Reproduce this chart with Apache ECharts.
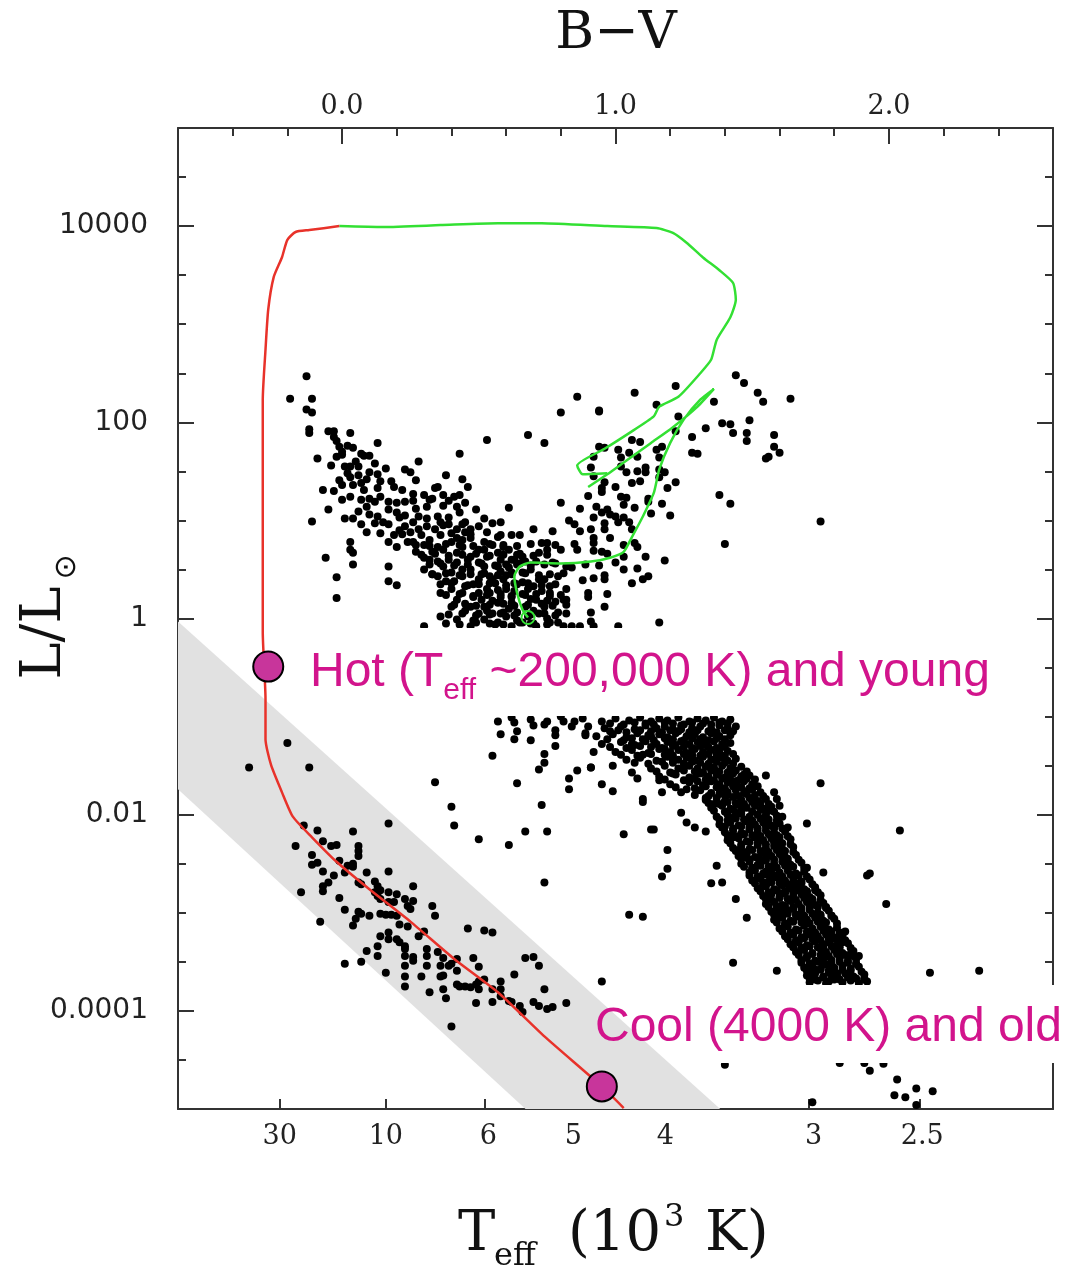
<!DOCTYPE html>
<html><head><meta charset="utf-8">
<script src="https://cdn.jsdelivr.net/npm/echarts@6/dist/echarts.min.js"></script>
<style>html,body{margin:0;padding:0;background:#fff}#chart{width:1080px;height:1270px}</style>
</head><body><div id="chart"></div>
<script>
// ---------- axis ticks & labels (x in B-V, y in log10 L/Lsun) ----------
const bvLabelValues = [0, 1, 2];
const bvLabelText = ['0.0', '1.0', '2.0'];
const bvMajorTicks = [0, 1, 2];
const bvMinorTicks = [-0.4, -0.2, 0.2, 0.4, 0.6, 0.8, 1.2, 1.4, 1.6, 1.8, 2.2, 2.4];
const teffLabelText = ['30', '10', '6', '5', '4', '3', '2.5'];
const teffLabelPos = [-0.228, 0.160, 0.535, 0.846, 1.182, 1.724, 2.122];
const teffTickPos = [-0.228, 0.158, 0.520, 0.832, 1.168, 1.708, 2.114];
const logLMajor = [-4, -2, 0, 2, 4];
const logLLabelText = ['0.0001', '0.01', '1', '100', '10000'];
const logLMinor = [-4.5, -3.5, -3, -2.5, -1.5, -1, -0.5, 0.5, 1, 1.5, 2.5, 3, 3.5, 4.5];

// ---------- stars [B-V, log L] ----------
const upperMainSequence = [
[-0.13,2.47],[-0.19,2.24],[-0.11,2.24],[-0.13,2.13],[-0.11,2.10],[-0.12,1.93],[-0.12,1.89],[-0.05,1.91],[-0.03,1.91],[0.03,1.89],
[-0.03,1.85],[0.13,1.79],[-0.01,1.75],[0.02,1.76],[0.04,1.74],[-0.02,1.65],[-0.09,1.63],[0.05,1.60],[-0.04,1.56],[0.01,1.55],
[0.03,1.55],[0.06,1.55],[0.12,1.58],[0.16,1.53],[0.23,1.52],[0.25,1.49],[0.28,1.60],[0.43,1.68],[0.53,1.82],[0.68,1.87],
[0.74,1.79],[0.80,2.10],[0.03,1.44],[0.06,1.46],[0.10,1.49],[0.13,1.47],[-0.07,1.31],[-0.03,1.30],[0.00,1.36],[0.04,1.36],
[0.08,1.31],[0.13,1.33],[0.19,1.34],[0.22,1.31],[0.38,1.46],[0.44,1.42],[0.46,1.34],[0.30,1.26],[0.34,1.33],[0.35,1.34],
[0.37,1.26],[0.41,1.24],[0.43,1.26],[0.03,1.24],[0.07,1.21],[0.09,1.14],[0.12,1.19],[0.14,1.24],[0.17,1.19],[0.20,1.18],
[0.23,1.19],[-0.05,1.11],[0.06,1.09],[0.10,1.06],[0.13,1.04],[0.17,1.11],[0.21,1.03],[0.23,1.05],[0.28,1.04],[0.31,1.02],
[0.35,1.04],[0.39,1.03],[0.42,1.14],[0.43,1.08],[0.49,1.11],[0.52,1.02],[0.58,0.98],[0.61,1.13],[-0.11,0.99],[0.01,1.02],
[0.04,1.02],[0.09,0.88],[0.14,0.87],[0.17,0.96],[0.19,0.85],[0.23,0.94],[0.26,0.98],[0.28,0.91],[0.31,0.94],[0.34,0.91],
[0.36,0.98],[0.39,0.96],[0.42,0.91],[0.45,0.98],[0.47,0.91],[0.50,0.94],[0.53,0.88],[0.57,0.83],[0.65,0.85],[0.70,0.91],
[0.73,0.77],[0.75,0.77],[0.77,0.89],[0.80,1.18],[0.83,1.00],[0.03,0.78],[0.03,0.70],[0.04,0.67],[0.04,0.55],[-0.06,0.62],
[0.17,0.78],[0.20,0.73],[0.24,0.78],[0.17,0.53],[0.17,0.38],[0.20,0.34],[-0.02,0.42],[-0.02,0.21],[0.26,0.78],[0.30,0.75],
[0.32,0.80],[0.35,0.73],[0.37,0.70],[0.40,0.78],[0.42,0.67],[0.44,0.73],[0.47,0.63],[0.50,0.70],[0.53,0.63],[0.57,0.67],
[0.59,0.73],[0.62,0.60],[0.64,0.65],[0.66,0.63],[0.71,0.58],[0.75,0.70],[0.77,0.57],[0.80,0.70],[0.82,0.53],[0.30,0.50],
[0.32,0.60],[0.35,0.43],[0.37,0.53],[0.40,0.47],[0.42,0.57],[0.44,0.43],[0.47,0.50],[0.50,0.40],[0.52,0.53],[0.54,0.43],
[0.57,0.53],[0.59,0.40],[0.62,0.47],[0.66,0.47],[0.70,0.33],[0.74,0.40],[0.79,0.43],[0.82,0.30],[0.36,0.26],[0.40,0.30],
[0.42,0.19],[0.44,0.26],[0.47,0.12],[0.50,0.26],[0.52,0.12],[0.54,0.26],[0.57,0.16],[0.59,0.06],[0.62,0.16],[0.64,0.06],
[0.71,0.19],[0.74,0.12],[0.76,0.26],[0.79,0.06],[0.81,0.19],[0.36,0.02],[0.30,-0.08],[0.42,-0.01],[0.47,-0.08],[0.52,-0.01],
[0.57,-0.04],[0.62,-0.08],[0.66,-0.04],[0.71,-0.08],[0.76,-0.04],[0.81,-0.08],
[0.48,0.35],[0.53,0.30],[0.56,0.36],[0.60,0.30],[0.63,0.36],[0.66,0.25],[0.69,0.20],[0.67,0.12],[0.62,0.22],[0.58,0.22],
[0.55,0.18],[0.51,0.19],[0.48,0.22],[0.45,0.33],[0.55,0.05],[0.60,0.02],[0.68,0.02],[0.72,0.05],[0.64,-0.02],[0.56,-0.06],
[0.50,0.05],[0.45,0.08],[0.40,0.12],[0.38,0.38],[0.33,0.45],[0.30,0.62],[0.27,0.68],[0.33,0.68],[0.47,0.82],[0.52,0.78],
[0.55,0.75],[0.58,0.60],[0.61,0.52],[0.64,0.55],[0.69,0.50],[0.72,0.40],[0.76,0.33],[0.78,0.17],[0.75,0.00],[0.69,-0.05],
[0.73,0.28],[0.60,0.44],[0.63,0.60],[0.58,0.85],[0.45,0.88],[0.42,0.82],[0.25,0.88],[0.21,0.90],[0.15,0.98],[0.20,1.08],
[0.27,1.12],[0.31,1.14],[0.37,1.15],[0.45,1.18],[0.33,1.22],[0.26,1.27],[0.14,1.40],[0.07,1.38],[0.02,1.48],[0.08,1.66],
[-0.02,1.81],[0.00,1.70],
[0.00,1.67],[0.07,1.68],[0.10,1.66],[-0.01,1.41],[0.09,1.42],[0.18,1.40],[0.27,1.41],[0.00,1.21],[0.10,1.22],[0.26,1.20],
[0.32,1.21],[0.39,1.20],[0.07,0.96],[0.12,0.97],[0.37,0.95],[0.44,0.96],[0.55,0.97],[0.22,0.86],[0.29,0.85],[0.40,0.87],
[0.47,0.86],[0.62,0.85]
];

const upperMainSequenceCore = [
[0.27,0.75],[0.32,0.74],[0.38,0.76],[0.43,0.75],[0.48,0.74],[0.54,0.76],[0.59,0.75],[0.64,0.74],[0.69,0.76],[0.78,0.75],
[0.29,0.65],[0.34,0.66],[0.39,0.64],[0.44,0.65],[0.49,0.66],[0.54,0.64],[0.59,0.65],[0.65,0.66],[0.70,0.64],[0.75,0.65],
[0.32,0.55],[0.36,0.56],[0.41,0.54],[0.46,0.55],[0.51,0.56],[0.56,0.54],[0.60,0.55],[0.65,0.56],[0.69,0.54],[0.74,0.55],[0.78,0.56],
[0.33,0.45],[0.38,0.46],[0.43,0.44],[0.47,0.45],[0.52,0.46],[0.57,0.44],[0.62,0.45],[0.67,0.46],[0.72,0.44],[0.76,0.45],[0.81,0.46],
[0.36,0.35],[0.40,0.36],[0.46,0.34],[0.50,0.35],[0.54,0.36],[0.60,0.34],[0.64,0.35],[0.68,0.36],[0.73,0.34],[0.78,0.35],
[0.38,0.24],[0.43,0.25],[0.48,0.23],[0.53,0.24],[0.58,0.25],[0.62,0.23],[0.67,0.24],[0.71,0.25],[0.76,0.23],[0.80,0.24],
[0.41,0.14],[0.45,0.15],[0.49,0.13],[0.54,0.14],[0.59,0.15],[0.63,0.13],[0.68,0.14],[0.73,0.15],[0.77,0.13],[0.82,0.14],
[0.39,0.04],[0.44,0.05],[0.49,0.03],[0.54,0.04],[0.58,0.05],[0.63,0.03],[0.69,0.04],[0.74,0.05],[0.78,0.03],
[0.38,-0.05],[0.43,-0.06],[0.49,-0.04],[0.54,-0.05],[0.59,-0.06],[0.65,-0.04],[0.70,-0.05],[0.75,-0.06],[0.79,-0.04],
[0.46,0.60],[0.51,0.45],[0.57,0.29],[0.61,0.10],[0.66,0.37],[0.70,0.08],[0.53,0.08],[0.48,-0.02],[0.44,0.50],[0.39,0.60],
[0.58,0.48],[0.67,0.58],[0.72,0.67],[0.61,0.70],[0.50,0.57],[0.55,0.40],[0.63,0.28],[0.75,0.18],[0.68,0.30],[0.41,0.38],
[0.35,0.58],[0.52,0.70],[0.44,0.80],[0.36,0.85]
];

const giantBranch = [
[0.86,2.26],[1.07,2.30],[1.22,2.37],[1.44,2.48],[1.47,2.40],[1.52,2.30],[1.54,2.21],[1.64,2.24],[0.94,2.11],[1.15,2.18],
[1.36,2.21],[1.23,2.06],[1.33,1.94],[1.39,1.99],[1.42,1.98],[1.49,2.02],[1.43,1.89],[1.48,1.89],[1.48,1.81],[1.58,1.87],
[1.22,1.91],[1.28,1.85],[1.28,1.69],[1.30,1.68],[1.58,1.75],[1.60,1.69],[1.56,1.65],[1.55,1.63],[1.06,1.82],[1.09,1.80],
[0.94,1.75],[0.96,1.74],[1.01,1.72],[1.02,1.64],[1.05,1.69],[1.08,1.65],[1.15,1.72],[1.17,1.75],[1.16,1.64],[0.92,1.65],
[0.91,1.54],[1.02,1.55],[1.04,1.49],[1.08,1.50],[1.11,1.54],[1.11,1.49],[1.16,1.52],[1.18,1.49],[0.92,1.45],[0.96,1.39],
[0.95,1.33],[1.00,1.34],[1.06,1.38],[1.09,1.40],[1.16,1.44],[1.22,1.39],[1.19,1.33],[0.90,1.25],[0.95,1.29],[1.02,1.24],
[1.04,1.23],[1.12,1.22],[1.38,1.26],[1.42,1.17],[0.87,1.12],[0.93,1.14],[1.03,1.16],[1.07,1.13],[1.12,1.19],[1.17,1.17],
[1.13,1.07],[1.20,1.05],[0.85,0.96],[0.92,1.03],[0.95,1.08],[0.97,1.11],[1.00,1.04],[1.01,0.98],[1.03,1.03],[0.96,0.97],
[0.98,1.06],[1.05,0.98],[1.06,0.91],[0.87,0.89],[0.91,0.91],[0.96,0.91],[0.98,0.82],[0.92,0.82],[1.75,0.99],[0.85,0.76],
[0.86,0.70],[0.92,0.77],[0.92,0.69],[0.95,0.68],[0.97,0.66],[1.03,0.75],[1.07,0.77],[1.08,0.73],[1.03,0.63],[1.11,0.63],
[1.18,0.59],[1.40,0.76],[0.84,0.52],[0.89,0.55],[0.94,0.54],[1.00,0.57],[1.03,0.50],[1.08,0.51],[1.12,0.43],[1.10,0.40],
[0.96,0.44],[0.96,0.40],[0.92,0.41],[0.88,0.39],[1.06,0.36],[0.90,0.26],[0.90,0.22],[0.97,0.25],[0.82,0.19],[0.96,0.12],
[0.82,0.05],[0.91,0.06],[0.91,-0.03],[0.84,-0.08],[0.87,-0.08],[0.92,-0.08],[1.01,-0.08],[1.16,-0.04],[0.94,2.12]
];

const lowerMainSequence = [
[0.57,-1.05],[0.62,-1.01],[0.69,-1.03],[0.74,-1.08],[0.80,-1.00],[0.85,-1.05],[0.88,-1.02],[0.90,-1.10],
[0.95,-1.05],[1.00,-1.02],[1.05,-1.04],[1.09,-1.01],[1.13,-1.05],[1.16,-1.02],[1.19,-1.04],[1.23,-1.01],[1.27,-1.05],[1.30,-1.02],[1.33,-1.04],[1.36,-1.01],[1.39,-1.05],[1.42,-1.03],
[0.96,-1.12],[1.02,-1.10],[1.07,-1.13],[1.11,-1.09],[1.15,-1.12],[1.18,-1.10],[1.21,-1.13],[1.24,-1.09],[1.28,-1.12],[1.31,-1.10],[1.35,-1.13],[1.38,-1.09],[1.41,-1.12],[1.44,-1.10],
[0.93,-1.20],[0.99,-1.18],[1.04,-1.21],[1.08,-1.17],[1.13,-1.20],[1.16,-1.18],[1.19,-1.21],[1.22,-1.17],[1.26,-1.20],[1.29,-1.18],[1.32,-1.21],[1.35,-1.17],[1.38,-1.20],[1.42,-1.19],
[0.95,-1.28],[1.02,-1.26],[1.07,-1.29],[1.11,-1.25],[1.15,-1.28],[1.19,-1.26],[1.22,-1.29],[1.24,-1.25],[1.27,-1.28],[1.30,-1.26],[1.33,-1.29],[1.36,-1.25],[1.39,-1.28],[1.42,-1.27],
[1.00,-1.36],[1.06,-1.34],[1.12,-1.37],[1.16,-1.33],[1.20,-1.36],[1.23,-1.34],[1.26,-1.37],[1.29,-1.33],[1.32,-1.36],[1.35,-1.34],[1.38,-1.37],[1.41,-1.35],
[1.04,-1.44],[1.09,-1.42],[1.15,-1.45],[1.19,-1.41],[1.23,-1.44],[1.26,-1.42],[1.29,-1.45],[1.32,-1.41],[1.35,-1.44],[1.38,-1.42],[1.41,-1.45],[1.44,-1.43],
[1.13,-1.53],[1.18,-1.50],[1.23,-1.53],[1.27,-1.50],[1.30,-1.53],[1.33,-1.51],[1.36,-1.54],[1.39,-1.50],[1.42,-1.53],[1.46,-1.51],
[1.16,-1.61],[1.22,-1.59],[1.27,-1.62],[1.31,-1.58],[1.34,-1.61],[1.37,-1.59],[1.40,-1.62],[1.43,-1.58],[1.46,-1.61],[1.49,-1.60],
[1.20,-1.69],[1.27,-1.67],[1.32,-1.70],[1.35,-1.66],[1.38,-1.69],[1.41,-1.67],[1.44,-1.70],[1.47,-1.66],[1.50,-1.69],
[1.24,-1.77],[1.31,-1.75],[1.35,-1.78],[1.38,-1.74],[1.41,-1.77],[1.44,-1.75],[1.47,-1.78],[1.50,-1.74],[1.53,-1.77],
[1.33,-1.85],[1.37,-1.83],[1.40,-1.86],[1.43,-1.82],[1.46,-1.85],[1.49,-1.83],[1.52,-1.86],[1.55,-1.84],
[1.35,-1.93],[1.39,-1.91],[1.42,-1.94],[1.45,-1.90],[1.48,-1.93],[1.51,-1.91],[1.54,-1.94],[1.57,-1.92],
[1.37,-2.02],[1.41,-2.00],[1.43,-2.03],[1.46,-1.99],[1.49,-2.02],[1.52,-2.00],[1.55,-2.03],[1.59,-2.01],
[1.38,-2.10],[1.42,-2.08],[1.45,-2.11],[1.48,-2.07],[1.51,-2.10],[1.54,-2.08],[1.57,-2.11],[1.60,-2.09],
[1.40,-2.18],[1.43,-2.16],[1.46,-2.19],[1.49,-2.15],[1.52,-2.18],[1.55,-2.16],[1.58,-2.19],[1.62,-2.17],
[1.41,-2.26],[1.45,-2.24],[1.48,-2.27],[1.51,-2.23],[1.54,-2.26],[1.57,-2.24],[1.60,-2.27],[1.64,-2.25],
[1.43,-2.34],[1.46,-2.32],[1.49,-2.35],[1.52,-2.31],[1.55,-2.34],[1.58,-2.32],[1.61,-2.35],[1.65,-2.33],
[1.45,-2.42],[1.48,-2.40],[1.51,-2.43],[1.54,-2.39],[1.57,-2.42],[1.60,-2.40],[1.62,-2.43],[1.66,-2.41],
[1.46,-2.50],[1.49,-2.48],[1.52,-2.51],[1.55,-2.47],[1.58,-2.50],[1.61,-2.48],[1.64,-2.51],[1.68,-2.49],
[1.49,-2.59],[1.51,-2.57],[1.54,-2.60],[1.57,-2.56],[1.60,-2.59],[1.63,-2.57],[1.66,-2.60],[1.69,-2.58],
[1.50,-2.67],[1.53,-2.65],[1.56,-2.68],[1.59,-2.64],[1.62,-2.67],[1.65,-2.65],[1.68,-2.68],[1.71,-2.66],
[1.52,-2.75],[1.55,-2.73],[1.58,-2.76],[1.61,-2.72],[1.64,-2.75],[1.66,-2.73],[1.69,-2.76],[1.73,-2.74],
[1.54,-2.83],[1.57,-2.81],[1.60,-2.84],[1.62,-2.80],[1.65,-2.83],[1.68,-2.81],[1.71,-2.84],[1.75,-2.82],
[1.55,-2.91],[1.58,-2.89],[1.61,-2.92],[1.64,-2.88],[1.67,-2.91],[1.70,-2.89],[1.73,-2.92],[1.76,-2.90],
[1.57,-2.99],[1.60,-2.97],[1.62,-3.00],[1.65,-2.96],[1.68,-2.99],[1.71,-2.97],[1.74,-3.00],[1.78,-2.98],
[1.58,-3.07],[1.61,-3.05],[1.64,-3.08],[1.67,-3.04],[1.70,-3.07],[1.73,-3.05],[1.76,-3.08],[1.80,-3.06],
[1.60,-3.16],[1.63,-3.14],[1.66,-3.17],[1.69,-3.13],[1.72,-3.16],[1.75,-3.14],[1.78,-3.17],[1.81,-3.15],
[1.62,-3.24],[1.65,-3.22],[1.68,-3.25],[1.71,-3.21],[1.74,-3.24],[1.77,-3.22],[1.80,-3.25],[1.83,-3.23],
[1.64,-3.32],[1.67,-3.30],[1.70,-3.33],[1.73,-3.29],[1.76,-3.32],[1.78,-3.30],[1.81,-3.33],[1.85,-3.31],
[1.66,-3.40],[1.69,-3.38],[1.72,-3.41],[1.75,-3.37],[1.77,-3.40],[1.80,-3.38],[1.83,-3.41],[1.87,-3.39],
[1.68,-3.48],[1.70,-3.46],[1.73,-3.49],[1.76,-3.45],[1.79,-3.48],[1.82,-3.46],[1.85,-3.49],[1.88,-3.47],
[1.69,-3.56],[1.72,-3.54],[1.75,-3.57],[1.77,-3.53],[1.80,-3.56],[1.83,-3.54],[1.86,-3.57],[1.89,-3.55],
[1.70,-3.64],[1.73,-3.62],[1.76,-3.65],[1.78,-3.61],[1.81,-3.64],[1.84,-3.62],[1.87,-3.65],[1.91,-3.63],
[1.71,-3.71],[1.74,-3.69],[1.77,-3.72],[1.80,-3.68],[1.83,-3.71],[1.86,-3.69],[1.89,-3.72],[1.92,-3.70]
];

const lowerMainSequenceCore = [
[0.98,-1.07],[1.03,-1.08],[1.07,-1.06],[1.11,-1.07],[1.14,-1.08],[1.18,-1.06],[1.21,-1.07],[1.25,-1.08],[1.28,-1.06],[1.32,-1.07],[1.35,-1.08],[1.38,-1.06],[1.41,-1.07],
[0.98,-1.15],[1.04,-1.16],[1.09,-1.14],[1.13,-1.15],[1.17,-1.16],[1.20,-1.14],[1.23,-1.15],[1.27,-1.16],[1.30,-1.14],[1.34,-1.15],[1.37,-1.16],[1.40,-1.14],[1.43,-1.15],
[0.97,-1.23],[1.03,-1.24],[1.06,-1.22],[1.10,-1.23],[1.14,-1.24],[1.18,-1.22],[1.21,-1.23],[1.25,-1.24],[1.28,-1.22],[1.31,-1.23],[1.34,-1.24],[1.37,-1.22],[1.40,-1.23],
[0.98,-1.31],[1.04,-1.32],[1.09,-1.30],[1.13,-1.31],[1.17,-1.32],[1.21,-1.30],[1.25,-1.31],[1.28,-1.32],[1.31,-1.30],[1.34,-1.31],[1.37,-1.32],[1.40,-1.30],
[1.02,-1.39],[1.08,-1.40],[1.13,-1.38],[1.18,-1.39],[1.21,-1.40],[1.25,-1.38],[1.28,-1.39],[1.31,-1.40],[1.34,-1.38],[1.37,-1.39],[1.40,-1.40],[1.43,-1.38],
[1.07,-1.47],[1.12,-1.48],[1.17,-1.46],[1.21,-1.47],[1.25,-1.48],[1.28,-1.46],[1.31,-1.47],[1.34,-1.48],[1.37,-1.46],[1.40,-1.47],[1.43,-1.48],
[1.15,-1.56],[1.20,-1.57],[1.25,-1.55],[1.29,-1.56],[1.32,-1.57],[1.35,-1.55],[1.38,-1.56],[1.41,-1.57],[1.44,-1.55],[1.48,-1.56],
[1.18,-1.64],[1.25,-1.65],[1.29,-1.63],[1.33,-1.64],[1.36,-1.65],[1.39,-1.63],[1.42,-1.64],[1.45,-1.65],[1.48,-1.63],[1.51,-1.64],
[1.22,-1.72],[1.29,-1.73],[1.33,-1.71],[1.37,-1.72],[1.40,-1.73],[1.43,-1.71],[1.46,-1.72],[1.49,-1.73],[1.52,-1.71],
[1.29,-1.80],[1.34,-1.81],[1.38,-1.79],[1.41,-1.80],[1.45,-1.81],[1.48,-1.79],[1.51,-1.80],[1.54,-1.81],
[1.34,-1.88],[1.38,-1.89],[1.41,-1.87],[1.44,-1.88],[1.47,-1.89],[1.50,-1.87],[1.53,-1.88],[1.56,-1.89],
[1.36,-1.96],[1.40,-1.97],[1.43,-1.95],[1.46,-1.96],[1.50,-1.97],[1.53,-1.95],[1.56,-1.96],[1.58,-1.97],
[1.38,-2.05],[1.41,-2.06],[1.44,-2.04],[1.47,-2.05],[1.50,-2.06],[1.53,-2.04],[1.56,-2.05],[1.59,-2.06],
[1.39,-2.13],[1.43,-2.14],[1.46,-2.12],[1.49,-2.13],[1.52,-2.14],[1.55,-2.12],[1.58,-2.13],[1.61,-2.14],
[1.41,-2.21],[1.44,-2.22],[1.47,-2.20],[1.50,-2.21],[1.53,-2.22],[1.56,-2.20],[1.59,-2.21],[1.63,-2.22],
[1.42,-2.29],[1.46,-2.30],[1.49,-2.28],[1.52,-2.29],[1.55,-2.30],[1.58,-2.28],[1.61,-2.29],[1.64,-2.30],
[1.44,-2.37],[1.47,-2.38],[1.50,-2.36],[1.53,-2.37],[1.56,-2.38],[1.59,-2.36],[1.62,-2.37],[1.65,-2.38],
[1.46,-2.45],[1.49,-2.46],[1.52,-2.44],[1.55,-2.45],[1.58,-2.46],[1.61,-2.44],[1.63,-2.45],[1.67,-2.46],
[1.47,-2.53],[1.50,-2.54],[1.53,-2.52],[1.56,-2.53],[1.59,-2.54],[1.62,-2.52],[1.65,-2.53],[1.69,-2.54],
[1.49,-2.62],[1.52,-2.63],[1.55,-2.61],[1.58,-2.62],[1.61,-2.63],[1.64,-2.61],[1.67,-2.62],[1.70,-2.63],
[1.51,-2.70],[1.54,-2.71],[1.57,-2.69],[1.60,-2.70],[1.63,-2.71],[1.65,-2.69],[1.68,-2.70],[1.72,-2.71],
[1.53,-2.78],[1.56,-2.79],[1.59,-2.77],[1.62,-2.78],[1.65,-2.79],[1.67,-2.77],[1.70,-2.78],[1.74,-2.79],
[1.55,-2.86],[1.57,-2.87],[1.60,-2.85],[1.63,-2.86],[1.66,-2.87],[1.69,-2.85],[1.72,-2.86],[1.75,-2.87],
[1.56,-2.94],[1.59,-2.95],[1.62,-2.93],[1.65,-2.94],[1.68,-2.95],[1.71,-2.93],[1.74,-2.94],[1.77,-2.95],
[1.58,-3.02],[1.60,-3.03],[1.63,-3.01],[1.66,-3.02],[1.69,-3.03],[1.72,-3.01],[1.75,-3.02],[1.79,-3.03],
[1.59,-3.10],[1.62,-3.11],[1.65,-3.09],[1.68,-3.10],[1.71,-3.11],[1.74,-3.09],[1.77,-3.10],[1.81,-3.11],
[1.61,-3.19],[1.64,-3.20],[1.67,-3.18],[1.70,-3.19],[1.73,-3.20],[1.76,-3.18],[1.79,-3.19],[1.82,-3.20],
[1.63,-3.27],[1.66,-3.28],[1.69,-3.26],[1.72,-3.27],[1.75,-3.28],[1.78,-3.26],[1.81,-3.27],[1.84,-3.28],
[1.65,-3.35],[1.68,-3.36],[1.71,-3.34],[1.74,-3.35],[1.76,-3.36],[1.79,-3.34],[1.82,-3.35],[1.86,-3.36],
[1.67,-3.43],[1.70,-3.44],[1.72,-3.42],[1.75,-3.43],[1.78,-3.44],[1.81,-3.42],[1.84,-3.43],[1.87,-3.44],
[1.68,-3.51],[1.71,-3.52],[1.74,-3.50],[1.76,-3.51],[1.79,-3.52],[1.82,-3.50],[1.85,-3.51],[1.88,-3.52],
[1.70,-3.59],[1.72,-3.60],[1.75,-3.58],[1.78,-3.59],[1.80,-3.60],[1.83,-3.58],[1.86,-3.59],[1.90,-3.60],
[1.71,-3.67],[1.73,-3.68],[1.76,-3.66],[1.79,-3.67],[1.82,-3.68],[1.85,-3.66],[1.88,-3.67],[1.91,-3.68],
[1.01,-1.14],[1.12,-1.19],[1.24,-1.13],[1.33,-1.27],[1.18,-1.33],[1.06,-1.28],[1.28,-1.40],[1.39,-1.31],[1.10,-1.39],[1.21,-1.45],
[1.37,-1.42],[1.21,-1.58],[1.30,-1.66],[1.36,-1.52],[1.44,-1.66],[1.26,-1.74],[1.40,-1.80],[1.47,-1.59],[1.33,-1.83],[1.48,-1.76],
[1.36,-1.89],[1.44,-1.98],[1.50,-1.85],[1.40,-2.12],[1.47,-2.20],[1.55,-2.00],[1.53,-2.24],[1.58,-2.14],[1.43,-2.23],[1.61,-2.02],
[1.45,-2.36],[1.53,-2.46],[1.59,-2.34],[1.50,-2.55],[1.57,-2.63],[1.63,-2.48],[1.66,-2.62],[1.55,-2.58],[1.48,-2.44],
[1.54,-2.69],[1.60,-2.80],[1.67,-2.70],[1.59,-2.93],[1.66,-3.02],[1.72,-2.88],[1.75,-3.04],[1.63,-2.98],[1.70,-2.79],
[1.62,-3.12],[1.70,-3.22],[1.76,-3.12],[1.68,-3.36],[1.77,-3.45],[1.83,-3.30],[1.73,-3.58],[1.81,-3.62],[1.88,-3.52],[1.78,-3.70],
[1.86,-3.42],[1.79,-3.27]
];

const fieldStars = [
[0.89,-1.17],[0.92,-1.36],[0.91,-1.52],[0.99,-1.50],[0.95,-1.69],[0.99,-1.76],[1.06,-1.57],[1.08,-1.63],[1.16,-1.65],[1.17,-1.77],
[1.10,-1.84],[1.10,-1.87],[1.03,-2.20],[1.14,-2.15],[1.19,-2.36],[1.19,-2.55],[1.17,-2.63],[1.05,-3.02],[1.10,-3.04],[0.95,-3.70],
[1.35,-2.70],[1.39,-2.69],[1.44,-2.86],[1.37,-2.52],[1.43,-3.51],[1.59,-3.59],[1.48,-3.05],[1.75,-1.68],[1.70,-2.09],[1.76,-2.59],
[1.93,-2.60],[1.55,-1.60],[1.58,-1.77],[1.59,-1.84],[1.60,-1.91],[1.63,-2.13],[1.60,-2.23],[1.77,-2.94],[1.79,-3.03],[1.70,-2.54],
[1.73,-2.77],[1.84,-3.19],[1.89,-3.44],[1.91,-3.67],[1.24,-1.98],[1.26,-2.08],[1.29,-2.13],[1.33,-2.17],[1.13,-2.15],
[2.04,-2.16],[1.92,-2.62],[1.99,-2.91],[2.15,-3.61],[2.33,-3.59],[1.40,-4.55],[1.82,-4.53],[1.91,-4.53],[1.98,-4.54],[1.93,-4.61],
[2.03,-4.70],[2.02,-4.86],[2.06,-4.88],[2.10,-4.79],[2.16,-4.82],[1.72,-4.93],[2.10,-4.96],
[0.34,-1.67],[0.40,-1.92],[0.41,-2.11],[0.50,-2.25],[0.55,-1.40],[0.58,-1.18],[0.61,-2.31],[0.64,-1.68],[0.73,-1.90],[0.67,-2.17],
[0.75,-2.17],[0.74,-2.69],[0.83,-1.63],[0.83,-1.74],[0.86,-1.55],[0.91,-1.52],[0.89,-1.19],[0.72,-1.54],[0.74,-1.47],[0.74,-1.38],
[0.78,-1.30],[0.78,-1.19],[0.78,-1.14],[0.69,-1.24],[0.63,-1.23],[0.64,-1.15],[0.70,-1.09],[0.84,-1.10],[0.63,-1.06],[0.75,-1.05],
[0.81,-1.05]
];

const whiteDwarfs = [
[-0.34,-1.52],[-0.20,-1.27],[-0.12,-1.52],[-0.14,-2.11],[-0.09,-2.16],[-0.17,-2.32],[-0.07,-2.27],[-0.04,-2.32],[-0.02,-2.31],[-0.11,-2.41],
[-0.11,-2.51],[-0.09,-2.49],[-0.07,-2.58],[-0.07,-2.73],[-0.07,-2.78],[-0.05,-2.69],[-0.03,-2.62],[-0.01,-2.47],[0.01,-2.59],[0.02,-2.52],
[0.04,-2.17],[0.06,-2.32],[0.06,-2.37],[0.06,-2.42],[0.04,-2.50],[0.04,-2.53],[0.06,-2.69],[0.07,-2.71],[0.09,-2.59],[-0.15,-2.79],
[-0.01,-2.85],[0.01,-2.97],[-0.08,-3.09],[0.04,-3.13],[0.05,-3.06],[0.06,-2.99],[0.07,-3.01],[0.10,-3.03],[0.12,-2.68],[0.13,-2.73],
[0.14,-2.77],[0.17,-2.79],[0.17,-2.09],[0.17,-2.58],[0.12,-2.79],[0.13,-2.83],[0.14,-2.86],[0.17,-2.89],[0.19,-2.89],[0.20,-2.81],
[0.23,-2.86],[0.24,-2.93],[0.26,-2.73],[0.26,-2.88],[0.25,-2.96],[0.14,-3.01],[0.16,-3.02],[0.18,-3.02],[0.20,-3.03],[0.21,-3.12],
[0.24,-3.14],[0.17,-3.20],[0.14,-3.24],[0.17,-3.27],[0.20,-3.27],[0.21,-3.30],[0.23,-3.34],[0.09,-3.39],[0.13,-3.34],[0.13,-3.44],
[0.01,-3.52],[0.07,-3.50],[0.16,-3.61],[0.23,-3.37],[0.23,-3.44],[0.23,-3.54],[0.23,-3.65],[0.23,-3.75],[0.26,-3.45],[0.26,-3.49],
[0.28,-3.24],[0.30,-3.19],[0.31,-3.37],[0.31,-3.44],[0.31,-3.54],[0.29,-3.65],[0.32,-3.81],[0.33,-2.93],[0.34,-3.03],[0.35,-3.40],
[0.37,-3.46],[0.36,-3.54],[0.39,-3.54],[0.40,-3.52],[0.42,-3.59],[0.42,-3.47],[0.37,-3.64],[0.36,-3.65],[0.38,-3.87],[0.37,-3.78],
[0.42,-3.73],[0.43,-3.75],[0.45,-3.75],[0.47,-3.76],[0.49,-3.73],[0.50,-3.78],[0.50,-3.70],[0.52,-3.68],[0.49,-3.92],[0.55,-3.78],
[0.58,-3.70],[0.58,-3.78],[0.58,-3.85],[0.55,-3.91],[0.61,-3.90],[0.62,-3.91],[0.65,-3.95],[0.66,-4.01],[0.70,-3.91],[0.72,-3.95],
[0.75,-3.98],[0.77,-3.96],[0.82,-3.92],[0.74,-3.78],[0.67,-3.46],[0.70,-3.45],[0.72,-3.54],[0.63,-3.63],[0.48,-3.46],[0.50,-3.55],
[0.46,-3.16],[0.52,-3.18],[0.55,-3.20],[0.40,-4.16]
];

// ---------- evolutionary tracks [B-V, log L] ----------
const greenTrackRGB = [
[0.68,0.01],[0.66,0.09],[0.64,0.26],[0.63,0.43],[0.65,0.53],[0.69,0.57],[0.80,0.56],[0.91,0.58],[0.98,0.62],[1.03,0.68],
[1.06,0.83],[1.10,1.04],[1.14,1.28],[1.16,1.52],[1.20,1.79],[1.25,2.03],[1.31,2.23],[1.36,2.34],
[1.30,2.16],[1.21,1.95],[1.13,1.79],[1.03,1.59],[0.97,1.47],[0.90,1.34]
];
const greenTrackAGB = [
[0.97,1.48],[0.88,1.47],[0.86,1.56],[0.96,1.73],[1.05,1.89],[1.14,2.06],[1.16,2.16],[1.23,2.26],[1.31,2.50],[1.35,2.64],
[1.37,2.84],[1.42,3.07],[1.44,3.25],[1.43,3.42],[1.38,3.55],[1.32,3.68],[1.26,3.83],[1.21,3.93],[1.15,3.98],[0.97,4.00],
[0.73,4.03],[0.57,4.03],[0.36,4.01],[0.15,3.99],[-0.01,4.00]
];
const redTrackWD = [
[-0.01,4.00],[-0.12,3.96],[-0.17,3.94],[-0.20,3.86],[-0.22,3.68],[-0.25,3.48],[-0.27,3.15],[-0.28,2.74],[-0.29,2.23],[-0.29,1.55],
[-0.29,0.88],[-0.29,-0.14],[-0.28,-0.82],[-0.28,-1.23],[-0.26,-1.49],[-0.22,-1.77],[-0.18,-2.02],[-0.11,-2.23],[-0.02,-2.48],[0.10,-2.76],
[0.25,-3.09],[0.41,-3.47],[0.57,-3.81],[0.74,-4.26],[0.95,-4.77],[1.03,-4.99]
];
const sunPoint = [[0.68, 0.01]];
const wdMarkers = [[-0.27, -0.49], [0.95, -4.77]];
const grayBand = [[-0.6, -0.03], [1.383, -5], [0.671, -5], [-0.6, -1.74]];

// ---------- chart ----------
const TICK = { color: '#333', width: 2 };
const pick = (vals, txt) => v => { const i = vals.findIndex(p => Math.abs(p - v) < 1e-6); return i >= 0 ? txt[i] : ''; };
const serifLbl = { fontFamily: 'DejaVu Serif', fontSize: 27, color: '#222' };

const chart = echarts.init(document.getElementById('chart'), null, { renderer: 'canvas' });

const ctx = document.createElement('canvas').getContext('2d');
function tw(t, f) { ctx.font = f; return ctx.measureText(t).width; }
function txt(x, y, text, font, fill, align, rot) {
  const el = { type: 'text', x: x, y: y, z: 101,
    style: { text: text, font: font, fill: fill || '#111', align: align || 'left', verticalAlign: 'middle' } };
  if (rot) el.rotation = rot;
  return el;
}

const MAG = '#d2148c';
const fBig = '48px "Liberation Sans"', fSub = '30px "Liberation Sans"';
const hx = 310, hy = 673;
const w1 = tw('Hot (T', fBig), w2 = tw('eff', fSub);

const graphics = [
  { type: 'rect', z: 100, shape: { x: 300, y: 628, width: 690, height: 88 }, style: { fill: '#fff' } },
  { type: 'rect', z: 100, shape: { x: 680, y: 985, width: 400, height: 78 }, style: { fill: '#fff' } },
  txt(hx, hy, 'Hot (T', fBig, MAG),
  txt(hx + w1, hy + 18, 'eff', fSub, MAG),
  txt(hx + w1 + w2, hy, ' ~200,000 K) and young', fBig, MAG),
  txt(595, 1028, 'Cool (4000 K) and old', fBig, MAG),
  txt(616, 34, 'B\u2212V', '53px "DejaVu Serif"', '#111', 'center'),
  txt(458, 1235, 'T', '56px "DejaVu Serif"'),
  txt(494, 1257, 'eff', '32px "DejaVu Serif"'),
  txt(568, 1235, '(10', '56px "DejaVu Serif"'),
  txt(664, 1218, '3', '32px "DejaVu Serif"'),
  txt(705, 1235, 'K)', '56px "DejaVu Serif"'),
  txt(45, 633, 'L/L', '56px "DejaVu Serif"', '#111', 'center', Math.PI / 2),
  txt(67, 567, '\u2299', '30px "DejaVu Sans"', '#111', 'center', Math.PI / 2)
];

const xBase = { type: 'value', min: -0.6, max: 2.6, splitLine: { show: false } };
const yBase = { type: 'value', min: -5, max: 5, splitLine: { show: false } };
const line = show => ({ show: show, onZero: false, lineStyle: TICK });

chart.setOption({
  animation: false,
  backgroundColor: '#fff',
  grid: { left: 178, right: 27, top: 128, bottom: 161 },
  xAxis: [
    Object.assign({}, xBase, { position: 'top', axisLine: line(true),
      axisTick: { show: true, inside: true, length: 16, lineStyle: TICK, customValues: bvMajorTicks },
      axisLabel: Object.assign({ customValues: bvLabelValues, formatter: pick(bvLabelValues, bvLabelText), margin: 8 }, serifLbl) }),
    Object.assign({}, xBase, { position: 'top', axisLine: line(false),
      axisTick: { show: true, inside: true, length: 8, lineStyle: TICK, customValues: bvMinorTicks },
      axisLabel: { show: false } }),
    Object.assign({}, xBase, { position: 'bottom', axisLine: line(true),
      axisTick: { show: true, inside: true, length: 10, lineStyle: TICK, customValues: teffTickPos },
      axisLabel: Object.assign({ customValues: teffLabelPos, formatter: pick(teffLabelPos, teffLabelText), margin: 14 }, serifLbl) })
  ],
  yAxis: [
    Object.assign({}, yBase, { position: 'left', axisLine: line(true),
      axisTick: { show: true, inside: true, length: 16, lineStyle: TICK, customValues: logLMajor },
      axisLabel: { customValues: logLMajor, formatter: pick(logLMajor, logLLabelText), margin: 30,
                   fontFamily: 'DejaVu Sans', fontSize: 28, color: '#222', padding: [12, 0, 0, 0] } }),
    Object.assign({}, yBase, { position: 'left', axisLine: line(false),
      axisTick: { show: true, inside: true, length: 8, lineStyle: TICK, customValues: logLMinor },
      axisLabel: { show: false } }),
    Object.assign({}, yBase, { position: 'right', axisLine: line(true),
      axisTick: { show: true, inside: true, length: 16, lineStyle: TICK, customValues: logLMajor },
      axisLabel: { show: false } }),
    Object.assign({}, yBase, { position: 'right', axisLine: line(false),
      axisTick: { show: true, inside: true, length: 8, lineStyle: TICK, customValues: logLMinor },
      axisLabel: { show: false } })
  ],
  series: [
    { type: 'custom', xAxisIndex: 0, yAxisIndex: 0, z: 1, silent: true, data: [grayBand[0]],
      renderItem: (params, api) => ({ type: 'polygon', shape: { points: grayBand.map(p => api.coord(p)) },
                                      style: { fill: '#e1e1e1' } }) },
    { type: 'scatter', xAxisIndex: 0, yAxisIndex: 0, z: 2, symbol: 'circle', symbolSize: 8,
      itemStyle: { color: '#000', opacity: 1 },
      data: [].concat(upperMainSequence, upperMainSequenceCore, giantBranch, lowerMainSequence, lowerMainSequenceCore, fieldStars, whiteDwarfs) },
    { type: 'line', xAxisIndex: 0, yAxisIndex: 0, z: 3, showSymbol: false, smooth: 0.2, data: greenTrackRGB,
      lineStyle: { color: '#33e033', width: 2.5 } },
    { type: 'line', xAxisIndex: 0, yAxisIndex: 0, z: 3, showSymbol: false, smooth: 0.2, data: greenTrackAGB,
      lineStyle: { color: '#33e033', width: 2.5 } },
    { type: 'line', xAxisIndex: 0, yAxisIndex: 0, z: 3, showSymbol: false, smooth: 0.2, data: redTrackWD,
      lineStyle: { color: '#e8322a', width: 2.5 } },
    { type: 'scatter', xAxisIndex: 0, yAxisIndex: 0, z: 4, symbol: 'circle', symbolSize: 13, data: sunPoint,
      itemStyle: { color: 'rgba(0,0,0,0)', borderColor: '#33e033', borderWidth: 2, opacity: 1 } },
    { type: 'scatter', xAxisIndex: 0, yAxisIndex: 0, z: 5, symbol: 'circle', symbolSize: 30, data: wdMarkers,
      itemStyle: { color: '#c8359b', borderColor: '#000', borderWidth: 2, opacity: 1 } }
  ],
  graphic: graphics
});
</script></body></html>
